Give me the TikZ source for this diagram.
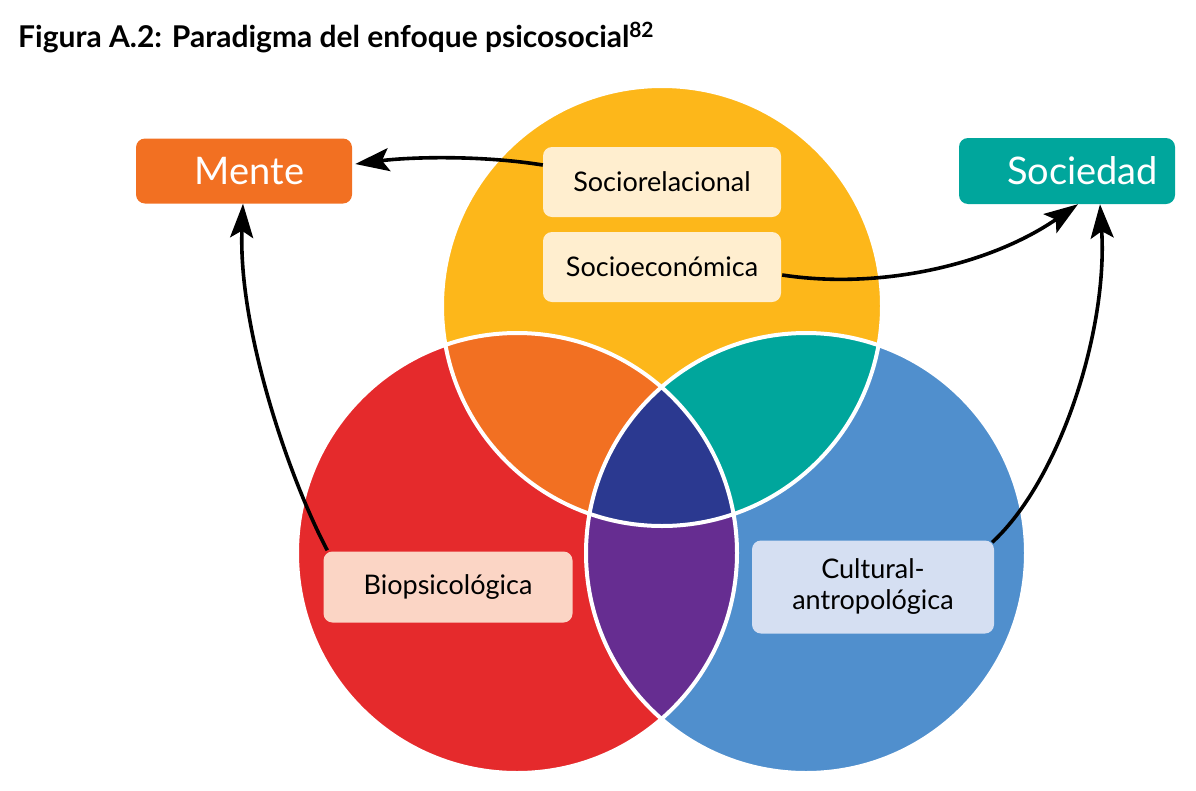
\documentclass[tikz,border=0pt]{standalone}
\usepackage{fontspec}
\setmainfont{Lato}
\usetikzlibrary{arrows.meta,calc}
\definecolor{cyel}{RGB}{253,183,26}
\definecolor{cred}{RGB}{229,42,44}
\definecolor{cblu}{RGB}{80,143,205}
\definecolor{corg}{RGB}{242,112,34}
\definecolor{ctea}{RGB}{0,166,156}
\definecolor{cpur}{RGB}{102,45,145}
\definecolor{cnav}{RGB}{43,57,144}
\definecolor{bcream}{RGB}{255,238,207}
\definecolor{bpink}{RGB}{251,213,197}
\definecolor{bblue}{RGB}{213,223,242}
\tikzset{
  bigbox/.style={rounded corners=9pt, inner sep=0pt, text=white, font=\fontsize{38}{40}\selectfont},
  smallbox/.style={rounded corners=9pt, inner sep=0pt, text=black, font=\fontsize{27}{31}\selectfont, align=center},
  conn/.style={line width=3.6pt, -{Stealth[length=34pt,width=23pt,inset=7pt]}},
  sep/.style={draw=white, line width=4pt}
}
\begin{document}
\begin{tikzpicture}[x=1pt,y=-1pt]
\useasboundingbox (0,0) rectangle (1196,790);
\def\Ry{(662,306) circle (220)}
\def\Rr{(517,553) circle (220)}
\def\Rb{(806,553) circle (220)}
% circles
\fill[cyel] \Ry;
\fill[cred] \Rr;
\fill[cblu] \Rb;
\begin{scope}\clip \Ry; \fill[corg] \Rr; \end{scope}
\begin{scope}\clip \Ry; \fill[ctea] \Rb; \end{scope}
\begin{scope}\clip \Rr; \fill[cpur] \Rb; \end{scope}
\begin{scope}\clip \Ry; \clip \Rr; \fill[cnav] \Rb; \end{scope}
\draw[sep] \Ry; \draw[sep] \Rr; \draw[sep] \Rb;
% title
\node[anchor=base west, inner sep=0pt, font=\fontsize{30}{33}\selectfont\bfseries] (title) at (18,47)
  {Figura A.2: Paradigma del enfoque psicosocial\textsuperscript{82}};
% boxes
\node[bigbox, fill=corg, minimum width=216pt, minimum height=65pt, text width=204pt, align=right] (mente) at (244,171) {Mente\hspace*{42pt}};
\node[bigbox, fill=ctea, minimum width=216pt, minimum height=66pt, text width=182pt, align=right] (soc) at (1067,171) {Sociedad};
\node[smallbox, fill=bcream, minimum width=238pt, minimum height=70pt] (srel) at (662,182) {Sociorelacional};
\node[smallbox, fill=bcream, minimum width=238pt, minimum height=70pt] (secon) at (662,267) {Socioeconómica};
\node[smallbox, fill=bpink, minimum width=249pt, minimum height=71pt] (bio) at (448,587) {Biopsicológica};
\node[smallbox, fill=bblue, minimum width=242pt, minimum height=93pt] (cult) at (873,587) {Cultural-\\antropológica};
% connectors
\draw[conn] ($(srel.west)+(0,-17)$) .. controls (480,155) and (410,157) .. ($(mente.east)+(3,-7)$);
\draw[conn] ($(secon.east)+(1,8)$) .. controls (880,290) and (990,265) .. ($(soc.south)+(11,0)$);
\draw[conn] ($(cult.north east)+(-2,2)$) .. controls (1060,480) and (1108,330) .. ($(soc.south)+(33,0)$);
\draw[conn] ($(bio.north west)+(4,-1)$) .. controls (290,480) and (238,330) .. ($(mente.south)+(-1,0)$);
\end{tikzpicture}
\end{document}
